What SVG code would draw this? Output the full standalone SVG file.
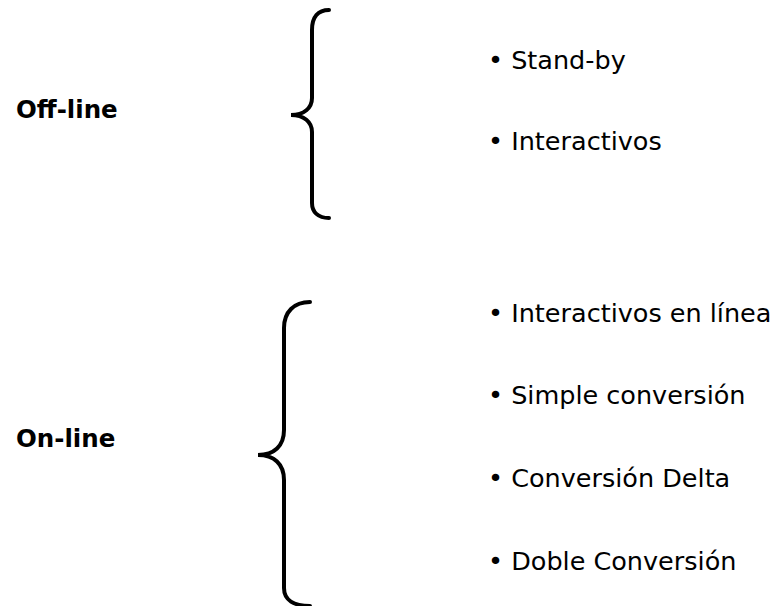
<svg xmlns="http://www.w3.org/2000/svg" width="780" height="606" viewBox="0 0 780 606">
<style>
.lbl{font-family:"DejaVu Sans",Verdana,sans-serif;font-weight:bold;font-size:24.5px;fill:#000}
.item{font-family:"DejaVu Sans",Verdana,sans-serif;font-size:25.5px;fill:#000}
.brace{fill:none;stroke:#000;stroke-width:4;stroke-linecap:round}
</style>
<rect width="780" height="606" fill="#fff"/>
<g id="offline">
<text class="lbl" x="16" y="118">Off-line</text>
<path class="brace" d="M329,10 C318,10 312,17 312,30 L312,98 C312,108 304,115 291,115 C304,115 312,122 312,132 L312,203 C312,212 318,218 329,218"/>
<text class="item" x="488" y="69">• Stand-by</text>
<text class="item" x="488" y="150">• Interactivos</text>
</g>
<g id="online">
<text class="lbl" x="16" y="447">On-line</text>
<path class="brace" d="M310,302 C294,302 284,312 284,328 L284,430 C284,446 274,455 258,455 C274,455 284,464 284,480 L284,588 C284,600 294,606 310,606"/>
<text class="item" x="488" y="322">• Interactivos en línea</text>
<text class="item" x="488" y="404">• Simple conversión</text>
<text class="item" x="488" y="487">• Conversión Delta</text>
<text class="item" x="488" y="570">• Doble Conversión</text>
</g>
</svg>
